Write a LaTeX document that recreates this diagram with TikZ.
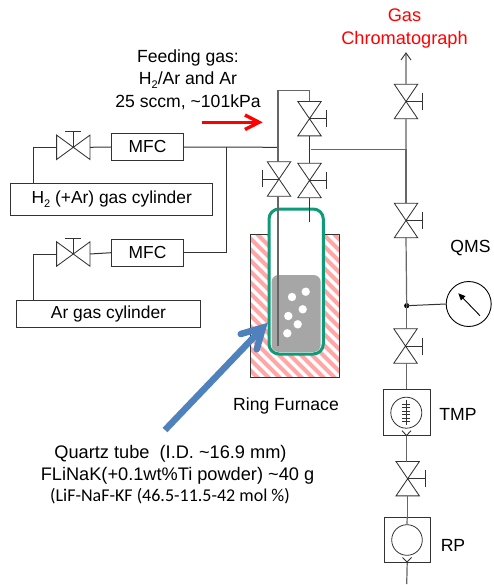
\documentclass[tikz,border=0pt]{standalone}
\usepackage{fontspec}
\setmainfont{Liberation Sans}
\newfontfamily\calfont{Carlito}
\usetikzlibrary{arrows.meta}
\definecolor{linedark}{HTML}{333333}
\definecolor{linegrey}{HTML}{666666}
\definecolor{linelight}{HTML}{999999}
\definecolor{tubegreen}{HTML}{109B78}
\definecolor{meltgrey}{HTML}{A6A6A6}
\definecolor{furnpink}{HTML}{FFA6A6}
\definecolor{bluearrow}{HTML}{4F81BD}
\tikzset{
  pipe/.style={draw=linedark,line width=1pt},
  pipegrey/.style={draw=linegrey,line width=1.2pt},
  pipelight/.style={draw=linelight,line width=1.3pt},
  boxnode/.style={draw=linedark,line width=1pt,fill=white,inner sep=0pt,font=\fontsize{17.4}{20}\selectfont},
  valvebody/.style={inner sep=0pt,minimum width=23pt,minimum height=34pt},
  valvebodyh/.style={inner sep=0pt,minimum width=33pt,minimum height=24pt},
  valveline/.style={draw=linedark,line width=0.85pt,line join=miter},
  lab/.style={anchor=base,inner sep=0pt,font=\fontsize{17.6}{20}\selectfont},
  labbig/.style={anchor=base,inner sep=0pt,font=\fontsize{18.2}{20}\selectfont},
  labcal/.style={anchor=base,inner sep=0pt,font=\calfont\fontsize{18}{20}\selectfont},
}
% vertical valve: name, x, y, handle length (signed)
\newcommand{\vvalve}[4]{%
  \node[valvebody] (#1) at (#2,#3) {};
  \draw[valveline] (#1.north west)--(#1.south east)--(#1.south west)--(#1.north east)--cycle;
  \draw[valveline] (#1.center)--++(#4,0) coordinate (#1h) ++(0,-8.5)--++(0,17);
}
% horizontal valve: name, x, y, handle top
\newcommand{\hvalve}[3]{%
  \node[valvebodyh] (#1) at (#2,#3) {};
  \draw[valveline] (#1.north west)--(#1.south east)--(#1.north east)--(#1.south west)--cycle;
  \draw[valveline] (#1.center)--++(0,-16) ++(-8,0)--++(16,0);
}
\begin{document}
\begin{tikzpicture}[x=1pt,y=-1pt]
\useasboundingbox (0,0) rectangle (493,585);
% furnace
\begin{scope}
\clip (250,234.7) rectangle (339.3,377.7);
\foreach \s in {-150,-139,...,340}{
  \draw[furnpink,line width=4pt] (\s,234) -- ++(150,150);
}
\end{scope}
\node[draw=linedark,line width=1pt,inner sep=0pt,minimum width=89.3pt,minimum height=143pt] (furnace) at (294.65,306.2) {};
% tube and melt
\draw[tubegreen,line width=3pt,fill=white,rounded corners=10pt] (269,209) rectangle (323.3,354);
\fill[meltgrey,rounded corners=7pt] (271.5,275) rectangle (320.7,352);
\foreach \n/\x/\y in {b1/292/297,b2/305.7/291.7,b3/302.7/309.3,b4/288.3/316,b5/297.7/324.3,b6/287.3/333.3}{
  \node[circle,fill=white,inner sep=0pt,minimum size=8.4pt] (\n) at (\x,\y) {};
}
% gas-side valves and boxes
\hvalve{hva}{73.3}{147.3}
\hvalve{hvb}{73.3}{254}
\node[boxnode,minimum width=71.6pt,minimum height=27.4pt] (mfca) at (147.5,147) {MFC};
\node[boxnode,minimum width=71.6pt,minimum height=26.7pt] (mfcb) at (147.5,252.7) {MFC};
\node[boxnode,minimum width=202pt,minimum height=32.4pt] (cyla) at (111.7,199.5) {H\raisebox{-3.5pt}{\fontsize{11}{11}\selectfont 2} (+Ar) gas cylinder};
\node[boxnode,minimum width=183.6pt,minimum height=27pt] (cylb) at (108.5,313.8) {Ar gas cylinder};
\coordinate (ja) at (226.7,147.3);
\coordinate (jb) at (278,147.3);
\draw[pipe] (cyla.north -| 33.3,0) -- (33.3,147.3) -- (hva.west);
\draw[pipe] (hva.east) -- (mfca.west);
\draw[pipe] (mfca.east) -- (jb);
\draw[pipe] (cylb.north -| 33.3,0) -- (33.3,254) -- (hvb.west);
\draw[pipe] (hvb.east) -- (mfcb.west);
\draw[pipe] (mfcb.east) -- (226.7,252.7) -- (ja);
% tube valves
\vvalve{va}{309.5}{118.7}{16.5}
\vvalve{vb}{309.5}{180.5}{16.5}
\vvalve{vc}{279}{179}{-16.3}
\coordinate (topl) at (278,90.7);
\coordinate (topr) at (309.5,90.7);
\coordinate (lend) at (278,346);
\coordinate (rend) at (309.5,221.7);
\draw[pipegrey] (lend) -- (vc.south -| lend);
\draw[pipegrey] (vc.north -| lend) -- (topl) -- (topr) -- (va.north);
\draw[pipe,line width=1.2pt] (va.south) -- (vb.north);
\draw[pipe,line width=1.2pt] (vb.south) -- (rend);
% main line
\vvalve{vd}{406}{101.5}{16.3}
\vvalve{ve}{406}{220.5}{16.3}
\vvalve{vf}{405.5}{346}{16.8}
\vvalve{vg}{407.7}{478.7}{17.3}
\coordinate (gctop) at (406,53);
\coordinate (branch) at (310.7,149.3);
\coordinate (jmain) at (406,149.3);
\fill[black] (406.7,305.7) circle (2.6pt) coordinate (jq);
\node[draw=black,line width=0.9pt,circle,inner sep=0pt,minimum size=45pt] (gauge) at (468.7,304) {};
\node[draw=linedark,line width=1pt,inner sep=0pt,minimum width=46.7pt,minimum height=46.4pt] (tmp) at (406.7,412.5) {};
\node[draw=linedark,line width=1pt,inner sep=0pt,minimum width=45.7pt,minimum height=45pt] (rp) at (407.2,539.8) {};
\node[draw=linedark,line width=0.8pt,circle,inner sep=0pt,minimum size=31pt] (tmpc) at (406.3,412.7) {};
\node[draw=linedark,line width=0.8pt,circle,inner sep=0pt,minimum size=30.6pt] (rpc) at (407,540) {};
\coordinate (rpend) at (406.7,584);
\draw[pipelight] (vd.north) -- (gctop);
\draw[pipelight] (vd.south) -- (jmain);
\draw[pipegrey,line width=1pt] (branch) -- (jmain);
\draw[pipegrey] (jmain) -- (ve.north);
\draw[pipegrey] (ve.south) -- (jq);
\draw[pipegrey] (jq) -- (vf.north -| jq);
\draw[pipegrey] (vf.south -| jq) -- (tmp.north);
\draw[pipegrey] (tmp.south) -- (vg.north -| tmp.south);
\draw[pipegrey] (vg.south -| rp.north) -- (rp.north);
\draw[pipegrey] (rp.north) -- (rpc.north);
\draw[pipegrey] (rp.south) -- (rpend);
\draw[pipe] (jq) -- (gauge.west);
\draw[linedark,line width=0.9pt] (401,60) -- (gctop) -- (411,60);
% gauge needle
\coordinate (ntail) at (480,315.7);
\coordinate (ntip) at (458.3,293.3);
\draw[black,line width=0.9pt,-{Triangle[length=7pt,width=6pt]}] (ntail) -- (ntip);
% TMP internals
\coordinate (tmps) at (406.3,399.5);
\coordinate (tmpe) at (406.3,424.5);
\draw[linedark,line width=0.9pt] (tmps) -- (tmpe);
\foreach \y in {404,407.5,411,414.5,418,421.5}{
  \draw[linedark,line width=0.9pt] (402.3,\y) -- (410.3,\y);
}
\draw[linedark,line width=0.9pt] (402,430.7) -- (406.5,435.5) -- (411,430.7);
\draw[linedark,line width=0.9pt] (402.5,557.5) -- (407,562) -- (411.5,557.5);
% red arrow
\coordinate (rs) at (201.7,122.3);
\coordinate (rt) at (259,122.3);
\draw[red,line width=3.4pt] (rs) -- (rt);
\draw[red,line width=3.4pt,line join=miter] (245,115) -- (rt) -- (245,129.5);
% blue arrow
\coordinate (bs) at (165,430);
\coordinate (bt) at (263,327.5);
\draw[bluearrow,line width=6.5pt] (bs) -- (bt);
\draw[bluearrow,line width=6.5pt,line cap=round,line join=miter] (240.7,334) -- (bt) -- (256.7,349.3);
% labels
\node[labbig,text=red] (lgas) at (404.5,21.7) {Gas};
\node[labbig,text=red] (lchrom) at (404.5,45) {Chromatograph};
\node[lab] (lf1) at (188,63) {Feeding gas:};
\node[lab] (lf2) at (188,85) {H\raisebox{-3.5pt}{\fontsize{11}{11}\selectfont 2}/Ar and Ar};
\node[lab] (lf3) at (188,108) {25 sccm, \textasciitilde101kPa};
\node[lab] (lqms) at (470.5,252) {QMS};
\node[lab] (ltmp) at (458,420) {TMP};
\node[lab] (lrp) at (453,551) {RP};
\node[lab] (lring) at (286,410.7) {Ring Furnace};
\node[labbig] (lq1) at (170.5,458.3) {Quartz tube\ \ (I.D. \textasciitilde16.9 mm)};
\node[labbig] (lq2) at (177.5,480.7) {FLiNaK(+0.1wt\%Ti powder) \textasciitilde40 g};
\node[labcal] (lq3) at (170,501.7) {(LiF-NaF-KF (46.5-11.5-42 mol \%)};
\end{tikzpicture}
\end{document}
